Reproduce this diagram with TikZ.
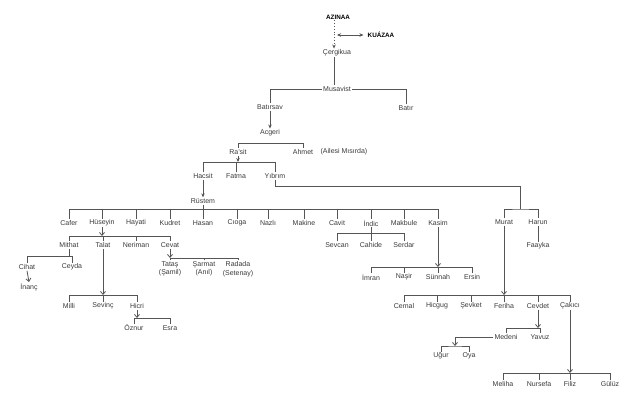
\documentclass[tikz,border=0pt]{standalone}
\usepackage{fontspec}
\setmainfont{Liberation Sans}
\usetikzlibrary{arrows.meta}

\definecolor{linegray}{HTML}{555555}
\definecolor{namegray}{HTML}{3A3A3A}

\tikzset{
  person/.style={inner sep=1pt, text=namegray, align=center,
                 font=\fontsize{7}{8.5}\selectfont},
  head/.style={inner sep=1pt, font=\bfseries\fontsize{6.3}{7}\selectfont},
  line/.style={draw=linegray, line width=0.8pt},
  tobar/.style={line, -{Straight Barb[length=3pt,width=5pt]}},
  tochild/.style={line, -{Stealth[length=4pt,width=3.5pt]}},
}

\begin{document}
\begin{tikzpicture}[x=1pt,y=-1pt]
\useasboundingbox (0,0) rectangle (640,405);

% top of the tree
\node[head] (azinaa) at (338,17) {AZINAA};
\node[head] (kuazaa) at (381,35) {KUÁZAA};
\coordinate (kuazaa0) at (337,35);
\node[person] (cergikua) at (337,53) {Çergikua};
\node[person] (musavist) at (337,89) {Musavist};
\node[person] (batirsav) at (270,107) {Batırsav};
\node[person] (batir) at (406,108) {Batır};
\node[person] (acgeri) at (270,133) {Acgeri};
\node[person] (rasit) at (238,152) {Ra'sit};
\node[person] (ahmet) at (303,152) {Ahmet};
\node[person] (ailesi) at (344,152) {(Ailesi Mısırda)};
\node[person] (hacsit) at (203,176) {Hacsit};
\node[person] (fatma) at (236,176) {Fatma};
\node[person] (yibrim) at (275,176) {Yıbrım};
\node[person] (rustem) at (203,201) {Rüstem};
\node[person] (murat) at (504,222) {Murat};
\node[person] (harun) at (538,222) {Harun};
\node[person] (faayka) at (538,246) {Faayka};

% children of Rustem
\foreach \n/\x/\t in {cafer/69/Cafer, huseyin/102/Hüseyin, hayati/136/Hayati,
    kudret/170/Kudret, hasan/203/Hasan, cioga/237/Cıoga, nazli/268/Nazlı,
    makine/304/Makine, cavit/337/Cavit, indic/371/İndic, makbule/404/Makbule,
    kasim/438/Kasim}
  \node[person] (\n) at (\x,223) {\t};

% grandchildren
\foreach \n/\x/\t in {mithat/69/Mithat, talat/103/Talat, neriman/136/Neriman,
    cevat/170/Cevat, sevcan/337/Sevcan, cahide/371/Cahide, serdar/404/Serdar}
  \node[person] (\n) at (\x,245) {\t};
\node[person] (cihat) at (27,267) {Cihat};
\node[person] (ceyda) at (72,267) {Ceyda};
\node[person] (inanc) at (29,287) {İnanç};
\node[person] (tatas) at (170,269) {Tataş\\(Şamil)};
\node[person] (sarmat) at (204,269) {Şarmat\\(Anıl)};
\node[person] (radada) at (238,269) {Radada\\(Setenay)};
\foreach \n/\x/\t in {imran/371/İmran, nasir/404/Naşir, sunnah/438/Sünnah,
    ersin/472/Ersin}
  \node[person] (\n) at (\x,277) {\t};
\foreach \n/\x/\t in {milli/69/Milli, sevinc/103/Sevinç, hicri/137/Hicri,
    cemal/404/Cemal, hicgug/437/Hicgug, sevket/471/Şevket, feriha/504/Feriha,
    cevdet/538/Cevdet, cakici/570/Çakıcı}
  \node[person] (\n) at (\x,306) {\t};
\node[person] (oznur) at (134,328) {Öznur};
\node[person] (esra) at (170,328) {Esra};
\node[person] (medeni) at (506,337) {Medeni};
\node[person] (yavuz) at (540,337) {Yavuz};
\node[person] (ugur) at (441,356) {Uğur};
\node[person] (oya) at (469,356) {Oya};
\foreach \n/\x/\t in {meliha/503/Meliha, nursefa/539/Nursefa, filiz/570/Filiz,
    guluz/610/Gülüz}
  \node[person] (\n) at (\x,384) {\t};

% bar levels
\coordinate (acbar) at (0,143);
\coordinate (rsbar) at (0,162);
\coordinate (mhbar) at (520,209);
\coordinate (rubar) at (0,209);
\coordinate (hubar) at (0,236);
\coordinate (inbar) at (0,233);
\coordinate (mibar) at (0,256);
\coordinate (cebar) at (0,258);
\coordinate (kabar) at (0,267);
\coordinate (tabar) at (0,295);
\coordinate (mubar) at (0,295);
\coordinate (hibar) at (0,318);
\coordinate (cdbar) at (0,328);
\coordinate (mdbar) at (455,346);
\coordinate (ckbar) at (0,373);

% connectors at the top
\draw[tochild, dotted] ([xshift=-4pt]azinaa.south) -- ([xshift=-3pt]cergikua.north);
\draw[line, {Stealth[length=4pt,width=3.5pt]}-{Stealth[length=4pt,width=3.5pt]},
      shorten >=3pt] (kuazaa0) -- (kuazaa.west);
\draw[line] ([xshift=-3pt]cergikua.south) -- ([xshift=-3pt]musavist.north);
\draw[line] (musavist.west) -| (batirsav.north);
\draw[line] (musavist.east) -| (batir.north);
\draw[tochild] (batirsav.south) -- (acgeri.north);
\draw[line] (rasit.north) |- (acbar -| ahmet) -- (ahmet.north);
\draw[tochild] (rasit.south) -- (rasit.south |- rsbar);
\draw[line] (hacsit.north) |- (rsbar -| yibrim) -- (yibrim.north);
\draw[line] (fatma.north) -- (fatma.north |- rsbar);
\draw[tochild] (hacsit.south) -- (rustem.north);

% Yibrim's branch
\draw[line] (yibrim.south) -- ++(0,7) -| (mhbar);
\draw[line] (murat.north) |- (mhbar) -| (harun.north);
\draw[line] (harun.south) -- (faayka.north);

% Rustem's children
\draw[line] (rustem.south) -- (rustem.south |- rubar);
\draw[line] (cafer.north) |- (rubar -| kasim) -- (kasim.north);
\foreach \n in {huseyin,hayati,kudret,hasan,cioga,nazli,makine,cavit,indic,makbule}
  \draw[line] (\n.north) -- (\n.north |- rubar);

% Huseyin
\draw[tobar] (huseyin.south) -- (huseyin.south |- hubar);
\draw[line] (mithat.north) |- (hubar -| cevat) -- (cevat.north);
\foreach \n in {talat,neriman}
  \draw[line] (\n.north) -- (\n.north |- hubar);
\draw[line] (mithat.south) -- (mithat.south |- mibar);
\draw[line] (cihat.north) |- (mibar -| ceyda) -- (ceyda.north);
\draw[tobar] (cihat.south) -- (inanc.north);
\draw[tobar] (talat.south) -- (talat.south |- tabar);
\draw[line] (milli.north) |- (tabar -| hicri) -- (hicri.north);
\draw[line] (sevinc.north) -- (sevinc.north |- tabar);
\draw[tobar] (hicri.south) -- (hicri.south |- hibar);
\draw[line] (oznur.north) |- (hibar -| esra) -- (esra.north);
\draw[tobar] (cevat.south) -- (cevat.south |- cebar);
\draw[line] (tatas.north) |- (cebar -| radada) -- (radada.north);
\draw[line] (sarmat.north) -- (sarmat.north |- cebar);

% Indic
\draw[line] (indic.south) -- (indic.south |- inbar);
\draw[line] (sevcan.north) |- (inbar -| serdar) -- (serdar.north);
\draw[line] (cahide.north) -- (cahide.north |- inbar);

% Kasim
\draw[tobar] (kasim.south) -- (kasim.south |- kabar);
\draw[line] (imran.north) |- (kabar -| ersin) -- (ersin.north);
\foreach \n in {nasir,sunnah}
  \draw[line] (\n.north) -- (\n.north |- kabar);

% Murat
\draw[tobar] (murat.south) -- (murat.south |- mubar);
\draw[line] (cemal.north) |- (mubar -| cakici) -- (cakici.north);
\foreach \n in {hicgug,sevket,feriha,cevdet}
  \draw[line] (\n.north) -- (\n.north |- mubar);
\draw[tobar] (cevdet.south) -- (cevdet.south |- cdbar);
\draw[line] (medeni.north) |- (cdbar -| yavuz) -- (yavuz.north);
\draw[tobar] (medeni.west) -| (mdbar);
\draw[line] (ugur.north) |- (mdbar) -| (oya.north);
\draw[tobar] (cakici.south) -- (cakici.south |- ckbar);
\draw[line] (meliha.north) |- (ckbar -| guluz) -- (guluz.north);
\foreach \n in {nursefa,filiz}
  \draw[line] (\n.north) -- (\n.north |- ckbar);
\end{tikzpicture}
\end{document}
